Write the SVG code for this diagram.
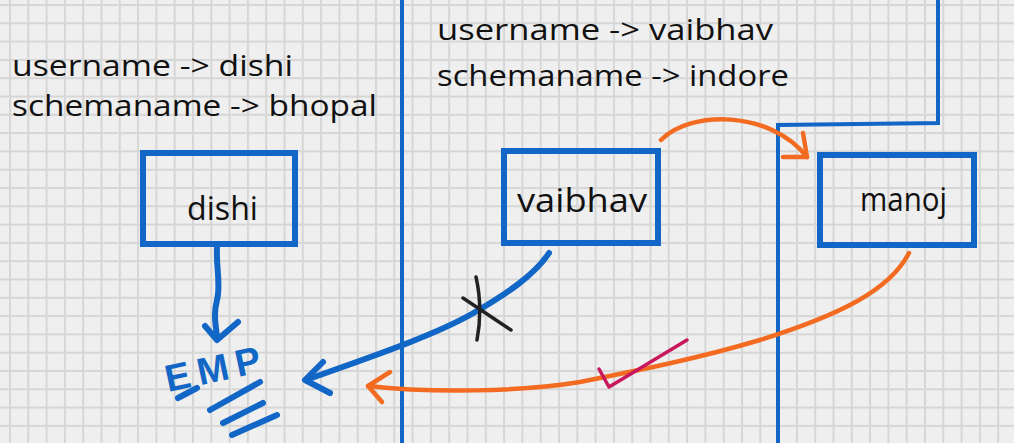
<svg xmlns="http://www.w3.org/2000/svg" width="1014" height="443" viewBox="0 0 1014 443">
  <defs>
    <pattern id="grid" patternUnits="userSpaceOnUse" x="9" y="4" width="18.3" height="18.3">
      <rect x="0" y="0" width="18.3" height="18.3" fill="#efefef"/>
      <rect x="0" y="0" width="2" height="18.3" fill="#d6d6d6"/>
      <rect x="0" y="0" width="18.3" height="2" fill="#d6d6d6"/>
    </pattern>
    <style>
      .hdr { font-family: "Open Sans", "Liberation Sans", sans-serif; font-size: 29px; fill: #111; }
      .lbl { font-family: "Open Sans", "Liberation Sans", sans-serif; font-size: 33px; fill: #111; }
      .box { fill: none; stroke: #1166c6; stroke-width: 6; }
      .wall { fill: none; stroke: #1166c6; stroke-width: 4; }
      .blue { fill: none; stroke: #1166c6; stroke-width: 6; stroke-linecap: round; stroke-linejoin: round; }
      .orange { fill: none; stroke: #f36b21; stroke-width: 4.5; stroke-linecap: round; stroke-linejoin: round; }
      .mark { fill: none; stroke-width: 3.5; stroke-linecap: round; stroke-linejoin: round; }
    </style>
  </defs>

  <rect x="0" y="0" width="1014" height="443" fill="url(#grid)"/>

  <!-- region walls -->
  <g id="walls">
    <path class="wall" d="M402 0 V443"/>
    <path class="wall" d="M778 443 V125 L938 123 V0"/>
  </g>

  <!-- headers -->
  <g id="header-dishi">
    <text class="hdr" x="12" y="76" textLength="281" lengthAdjust="spacingAndGlyphs">username -&gt; dishi</text>
    <text class="hdr" x="12" y="116" textLength="365" lengthAdjust="spacingAndGlyphs">schemaname -&gt; bhopal</text>
  </g>
  <g id="header-vaibhav">
    <text class="hdr" x="437" y="40" textLength="336" lengthAdjust="spacingAndGlyphs">username -&gt; vaibhav</text>
    <text class="hdr" x="437" y="86" textLength="352" lengthAdjust="spacingAndGlyphs">schemaname -&gt; indore</text>
  </g>

  <!-- nodes -->
  <g id="node-dishi">
    <rect class="box" x="143" y="153" width="152" height="91"/>
    <text class="lbl" x="187" y="220" textLength="71" lengthAdjust="spacingAndGlyphs">dishi</text>
  </g>
  <g id="node-vaibhav">
    <rect class="box" x="504" y="151" width="154" height="92"/>
    <text class="lbl" x="517" y="212" textLength="130" lengthAdjust="spacingAndGlyphs">vaibhav</text>
  </g>
  <g id="node-manoj">
    <rect class="box" x="820" y="155" width="154" height="90"/>
    <text class="lbl" x="860" y="211" textLength="87" lengthAdjust="spacingAndGlyphs">manoj</text>
  </g>
  <g id="node-emp">
    <text x="168" y="392" transform="rotate(-12 168 392)" font-family="Liberation Sans, sans-serif" font-weight="bold" font-size="38" fill="#1166c6" textLength="97" lengthAdjust="spacing">EMP</text>
    <path class="blue" d="M178 398 L197 388 M210 410 L260 382 M223 423 L263 403 M232 435 L277 415"/>
  </g>

  <!-- connectors -->
  <g id="connectors">
    <path class="blue" d="M217 248 C 216 268, 221 285, 217 300 S 216 325, 217 338"/>
    <path class="blue" d="M205 326 L217 340 L238 322"/>

    <path class="blue" d="M549 253 C 535 275, 505 295, 470 315 C 430 337, 370 357, 306 380"/>
    <path class="blue" d="M323 362 L305 380 L330 393"/>

    <path class="orange" d="M909 253 C 890 290, 840 315, 760 340 C 700 358, 640 370, 580 382 C 520 392, 430 393, 368 386"/>
    <path class="orange" d="M390 372 L368 386 L382 402"/>

    <path class="orange" d="M661 140 C 690 110, 770 110, 807 157"/>
    <path class="orange" d="M803 133 L807 157 L783 157"/>

    <path class="mark" stroke="#222" d="M476 277 Q 483 308 477 340 M463 298 L511 330"/>
    <path class="mark" stroke="#c8175d" d="M599 369 L609 387 L687 340"/>
  </g>
</svg>
